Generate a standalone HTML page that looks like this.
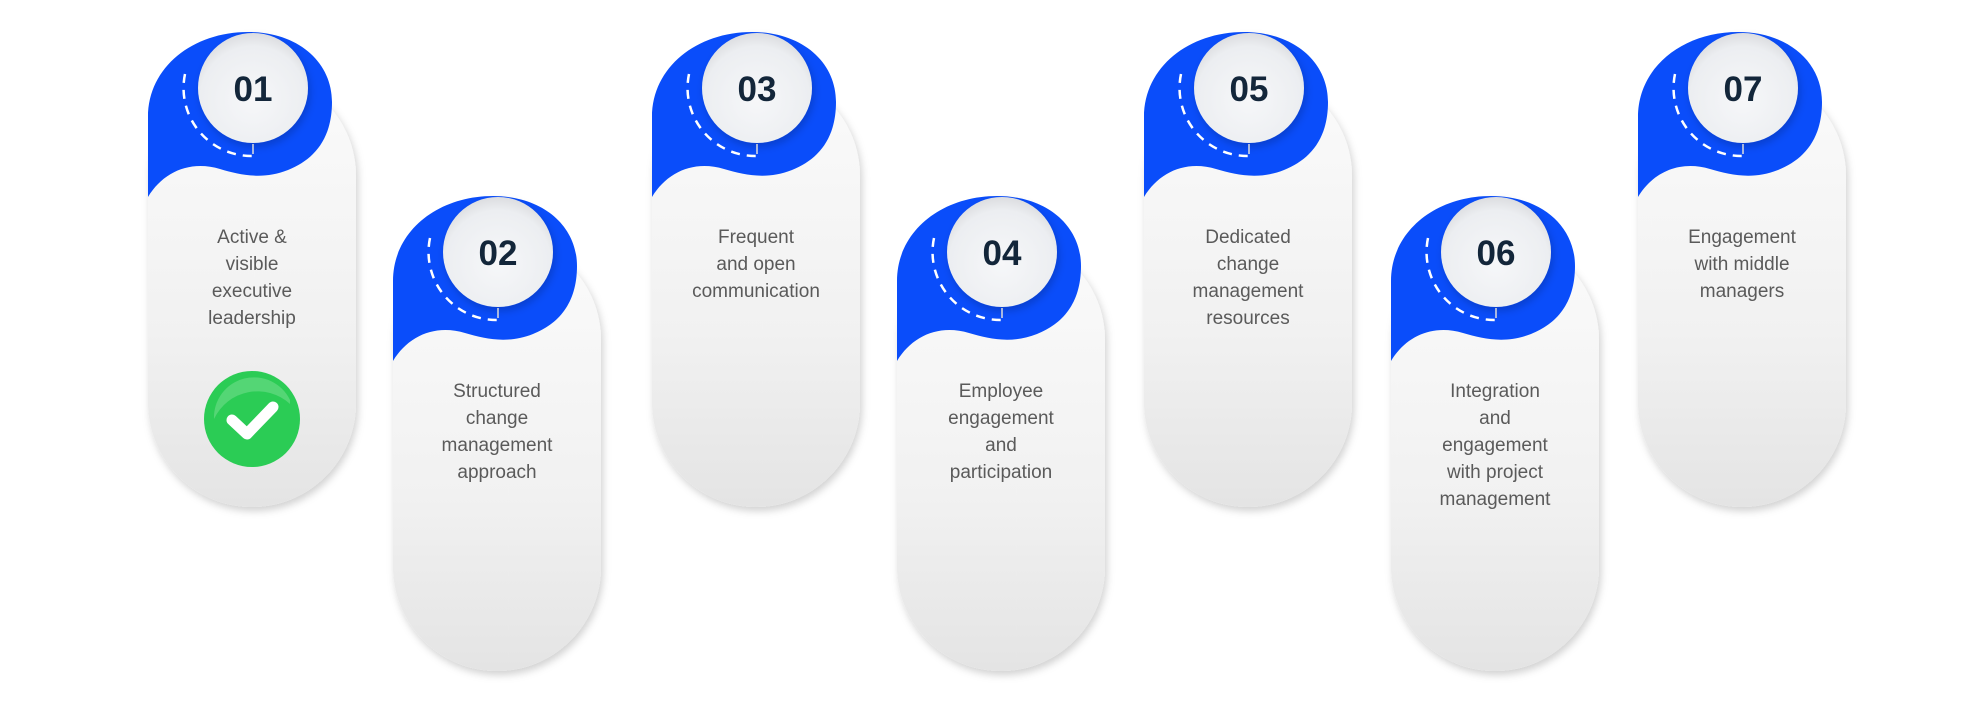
<!DOCTYPE html>
<html><head><meta charset="utf-8"><style>
html,body{margin:0;padding:0;background:#fff;width:1987px;height:703px;overflow:hidden}
svg{display:block}
.t{font-family:"Liberation Sans",sans-serif;font-size:19px;fill:#5a5a5a;text-anchor:middle}
.n{font-family:"Liberation Sans",sans-serif;font-size:35px;font-weight:bold;fill:#13263a;text-anchor:middle}
</style></head><body>
<svg width="1987" height="703" viewBox="0 0 1987 703" xmlns="http://www.w3.org/2000/svg">
<defs>
<linearGradient id="g" x1="0" y1="0" x2="0" y2="1">
<stop offset="0" stop-color="#fbfbfb"/><stop offset="0.6" stop-color="#f1f1f1"/><stop offset="1" stop-color="#e4e4e4"/>
</linearGradient>
<radialGradient id="c" cx="0.5" cy="0.6" r="0.6">
<stop offset="0" stop-color="#f6f7f9"/><stop offset="0.8" stop-color="#eceef1"/><stop offset="1" stop-color="#dcdde0"/>
</radialGradient>
<filter id="s" x="-20%" y="-20%" width="140%" height="140%"><feDropShadow dx="2" dy="4" stdDeviation="4" flood-color="#000" flood-opacity="0.18"/></filter>
<g id="card">
<rect x="0" y="40" width="208" height="435" rx="104" fill="url(#g)" filter="url(#s)"/>
<path d="M0,165 L0,85 C0,35 45,0 100,0 C150,0 184,30 184,70 C184,108 165,128 140,138 C115,148 92,143 72,137 C42,128 15,140 0,165 Z" fill="#0a4dfa"/>
<circle cx="105" cy="56" r="55" fill="url(#c)" filter="url(#s)"/>
<path d="M37,42 A68,68 0 0 0 105,124" fill="none" stroke="#fff" stroke-width="2.5" stroke-dasharray="9,7"/>
<line x1="105" y1="112" x2="105" y2="122" stroke="#ddd" stroke-width="1.5"/>
</g>
</defs>

<use href="#card" x="148" y="32"/>
<use href="#card" x="393" y="196"/>
<use href="#card" x="652" y="32"/>
<use href="#card" x="897" y="196"/>
<use href="#card" x="1144" y="32"/>
<use href="#card" x="1391" y="196"/>
<use href="#card" x="1638" y="32"/>

<text class="n" x="253" y="101">01</text>
<text class="n" x="498" y="265">02</text>
<text class="n" x="757" y="101">03</text>
<text class="n" x="1002" y="265">04</text>
<text class="n" x="1249" y="101">05</text>
<text class="n" x="1496" y="265">06</text>
<text class="n" x="1743" y="101">07</text>

<g class="t">
<text x="252" y="243">Active &amp;</text><text x="252" y="270">visible</text><text x="252" y="297">executive</text><text x="252" y="324">leadership</text>
<text x="497" y="397">Structured</text><text x="497" y="424">change</text><text x="497" y="451">management</text><text x="497" y="478">approach</text>
<text x="756" y="243">Frequent</text><text x="756" y="270">and open</text><text x="756" y="297">communication</text>
<text x="1001" y="397">Employee</text><text x="1001" y="424">engagement</text><text x="1001" y="451">and</text><text x="1001" y="478">participation</text>
<text x="1248" y="243">Dedicated</text><text x="1248" y="270">change</text><text x="1248" y="297">management</text><text x="1248" y="324">resources</text>
<text x="1495" y="397">Integration</text><text x="1495" y="424">and</text><text x="1495" y="451">engagement</text><text x="1495" y="478">with project</text><text x="1495" y="505">management</text>
<text x="1742" y="243">Engagement</text><text x="1742" y="270">with middle</text><text x="1742" y="297">managers</text>
</g>

<circle cx="252" cy="419" r="48" fill="#2bcc55"/>
<path d="M214,419 A40,40 0 0 1 290,400 L290,404 A48,48 0 0 0 214,419Z" fill="#6fdc8a" opacity="0.6"/>
<path d="M232,420 L247,434 L273,407" fill="none" stroke="#fff" stroke-width="11" stroke-linecap="round" stroke-linejoin="round"/>
</svg>
</body></html>
